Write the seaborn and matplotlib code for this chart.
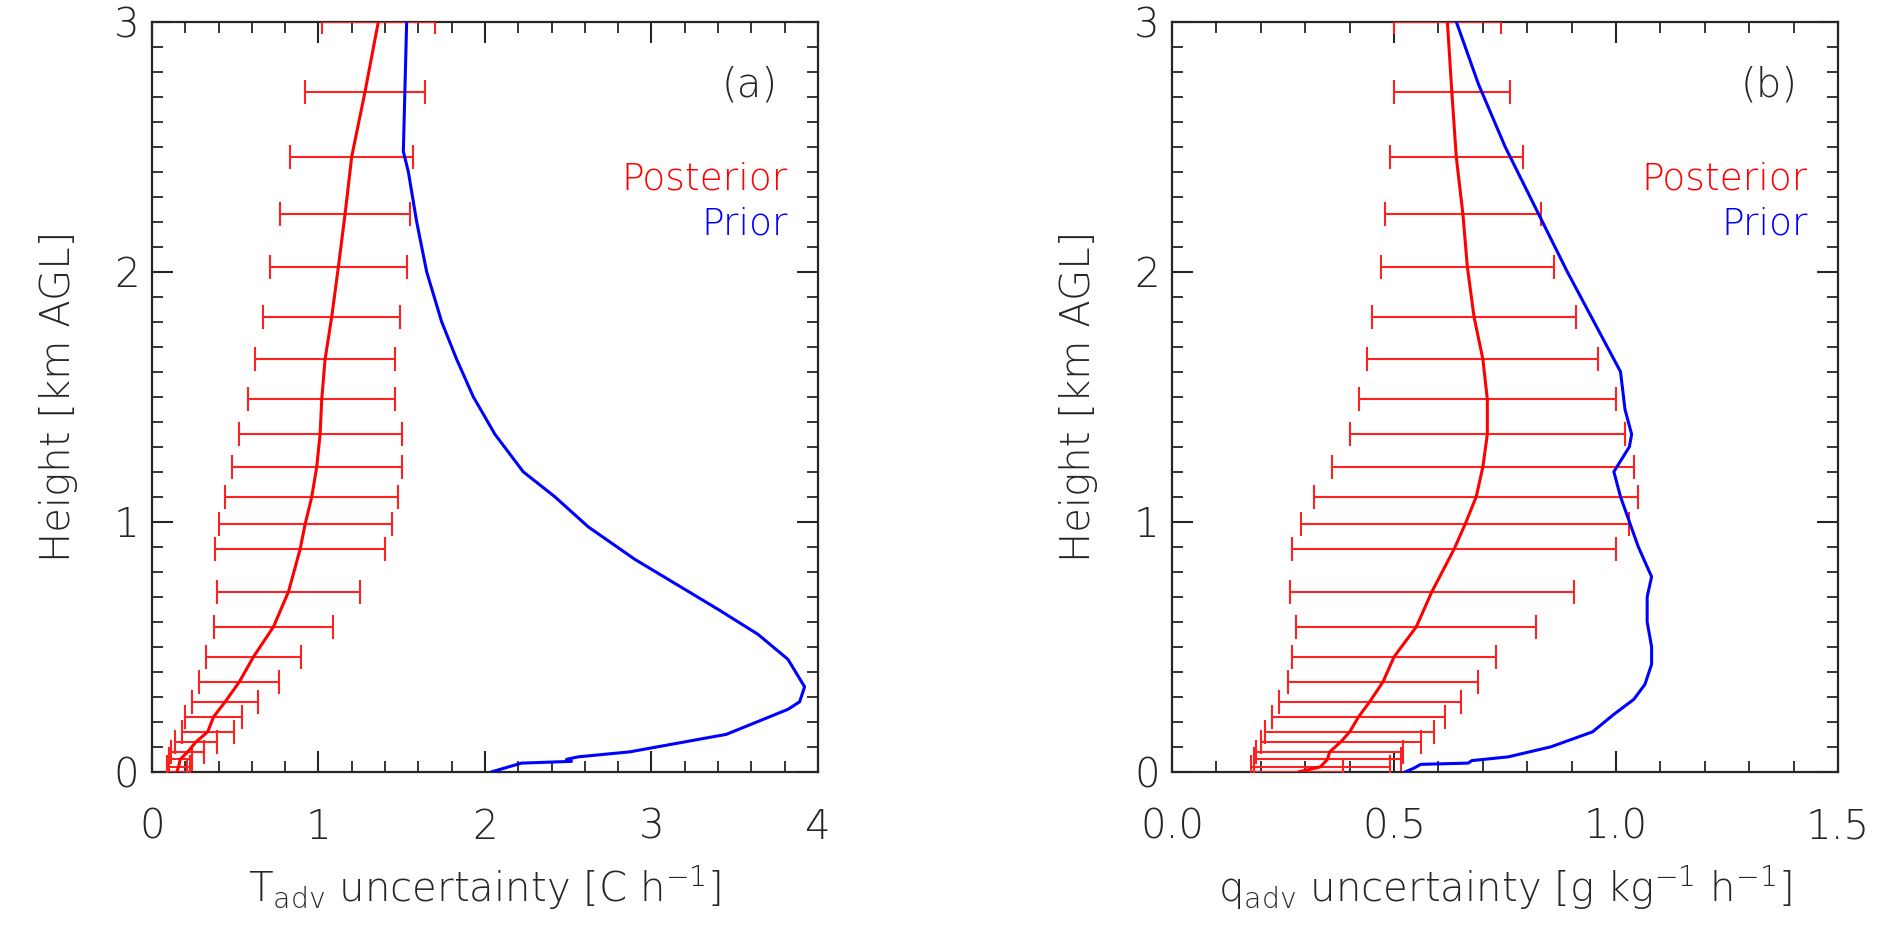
import numpy as np
import pandas as pd
import seaborn as sns
import matplotlib
matplotlib.use("Agg")
from matplotlib import pyplot as plt
from matplotlib.ticker import MultipleLocator, FormatStrFormatter

# heights of the retrieval levels shown with error bars [km AGL]
alturas = [3.0, 2.72, 2.46, 2.23, 2.02, 1.82, 1.65, 1.49, 1.35, 1.22, 1.10, 0.99,
           0.89, 0.72, 0.58, 0.46, 0.36, 0.28, 0.22, 0.16, 0.12, 0.08, 0.05, 0.02, 0.0]

# (a) temperature advection uncertainty [C/h]
t_post = [1.36, 1.28, 1.20, 1.16, 1.12, 1.08, 1.04, 1.02, 1.01, 0.99, 0.96, 0.92,
          0.89, 0.82, 0.73, 0.61, 0.525, 0.44, 0.37, 0.335, 0.265, 0.215, 0.17, 0.16, 0.15]
t_err = [0.34, 0.36, 0.37, 0.39, 0.41, 0.41, 0.42, 0.44, 0.49, 0.51, 0.52, 0.52,
         0.51, 0.43, 0.36, 0.285, 0.24, 0.20, 0.17, 0.155, 0.125, 0.10, 0.07, 0.07, 0.06]
t_prior_z = [0.0, 0.035, 0.042, 0.05, 0.06, 0.08, 0.15, 0.25, 0.28, 0.34, 0.45, 0.55,
             0.65, 0.75, 0.85, 0.98, 1.1, 1.2, 1.35, 1.5, 1.65, 1.8, 2.0, 2.2, 2.4, 2.48, 3.0]
t_prior = [2.04, 2.22, 2.52, 2.49, 2.56, 2.87, 3.45, 3.82, 3.89, 3.92, 3.82, 3.64,
           3.40, 3.15, 2.90, 2.62, 2.42, 2.23, 2.06, 1.93, 1.83, 1.74, 1.65, 1.59, 1.54, 1.51, 1.53]

# (b) moisture advection uncertainty [g/kg/h]
q_post = [0.62, 0.63, 0.64, 0.655, 0.665, 0.68, 0.70, 0.71, 0.71, 0.70, 0.685, 0.66,
          0.635, 0.585, 0.55, 0.50, 0.475, 0.445, 0.42, 0.40, 0.38, 0.355, 0.35, 0.334, 0.285]
q_err = [0.12, 0.13, 0.15, 0.175, 0.195, 0.23, 0.26, 0.29, 0.31, 0.34, 0.365, 0.37,
         0.365, 0.32, 0.27, 0.23, 0.215, 0.205, 0.195, 0.19, 0.18, 0.165, 0.165, 0.156, 0.1]
q_prior_z = [0.0, 0.015, 0.03, 0.035, 0.045, 0.06, 0.1, 0.16, 0.23, 0.29, 0.35, 0.43,
             0.5, 0.6, 0.7, 0.78, 0.9, 1.0, 1.1, 1.2, 1.3, 1.35, 1.45, 1.6, 1.65, 1.8,
             2.0, 2.25, 2.5, 2.75, 3.0]
q_prior = [0.525, 0.545, 0.56, 0.667, 0.675, 0.757, 0.853, 0.947, 0.995, 1.04, 1.065, 1.08,
           1.08, 1.07, 1.07, 1.08, 1.05, 1.03, 1.01, 0.995, 1.03, 1.035, 1.02, 1.01, 0.995, 0.95,
           0.89, 0.82, 0.75, 0.69, 0.64]

paneles = [
    dict(post=t_post, err=t_err, pz=t_prior_z, prior=t_prior, xlim=(0, 4), major=1, minor=0.2,
         fmt="%d", etiqueta="(a)", xlabel="T$_\\mathrm{adv}$ uncertainty [C h$^{-1}$]"),
    dict(post=q_post, err=q_err, pz=q_prior_z, prior=q_prior, xlim=(0, 1.5), major=0.5, minor=0.1,
         fmt="%.1f", etiqueta="(b)", xlabel="q$_\\mathrm{adv}$ uncertainty [g kg$^{-1}$ h$^{-1}$]"),
]

sns.set_theme(style="ticks")
plt.rcParams["font.family"] = ["DejaVu Sans"]
plt.rcParams["font.weight"] = "light"
plt.rcParams["axes.labelweight"] = "light"
plt.rcParams["mathtext.fontset"] = "custom"
plt.rcParams["mathtext.rm"] = "DejaVu Sans:light"
plt.rcParams["mathtext.default"] = "rm"
gris = "#262626"

fig = plt.figure(figsize=(18.92, 9.39), dpi=100)
posiciones = [[0.0803, 0.178, 0.352, 0.799], [0.6195, 0.178, 0.352, 0.799]]

for pos, p in zip(posiciones, paneles):
    ax = fig.add_axes(pos)
    df_post = pd.DataFrame({"x": p["post"], "z": alturas})
    df_prior = pd.DataFrame({"x": p["prior"], "z": p["pz"]})

    ax.errorbar(df_post["x"], df_post["z"], xerr=p["err"], fmt="none", ecolor="#ff2020",
                elinewidth=1.5, capsize=8.5, capthick=1.5, zorder=3)
    sns.lineplot(data=df_post, x="x", y="z", sort=False, estimator=None, color="#ff0000",
                 lw=2.2, ax=ax, zorder=4)
    sns.lineplot(data=df_prior, x="x", y="z", sort=False, estimator=None, color="#0000ff",
                 lw=2.2, ax=ax, zorder=4)

    ax.set_xlim(*p["xlim"])
    ax.set_ylim(0, 3)
    ax.xaxis.set_major_locator(MultipleLocator(p["major"]))
    ax.xaxis.set_minor_locator(MultipleLocator(p["minor"]))
    ax.xaxis.set_major_formatter(FormatStrFormatter(p["fmt"]))
    ax.yaxis.set_major_locator(MultipleLocator(1))
    ax.yaxis.set_minor_locator(MultipleLocator(0.1))
    ax.tick_params(which="both", direction="in", top=True, right=True, color=gris,
                   labelcolor=gris, labelsize=29)
    ax.tick_params(which="major", length=15, width=1.5)
    ax.tick_params(which="minor", length=8, width=1.3)
    ax.tick_params(axis="x", which="major", pad=26)
    ax.tick_params(axis="y", which="major", pad=9)
    for s in ax.spines.values():
        s.set_color(gris)
        s.set_linewidth(1.6)

    ax.set_xlabel(p["xlabel"], fontsize=29, color=gris, labelpad=12, fontweight="light")
    ax.set_ylabel("Height [km AGL]", fontsize=29, color=gris, labelpad=26, fontweight="light")

    ax.text(0.94, 0.915, p["etiqueta"], transform=ax.transAxes, ha="right", va="center",
            fontsize=29, color=gris)
    ax.text(0.955, 0.79, "Posterior", transform=ax.transAxes, ha="right", va="center",
            fontsize=27, color="#ff0000")
    ax.text(0.955, 0.73, "Prior", transform=ax.transAxes, ha="right", va="center",
            fontsize=27, color="#0000ff")

fig.savefig("out.png", dpi=100, facecolor="white")
